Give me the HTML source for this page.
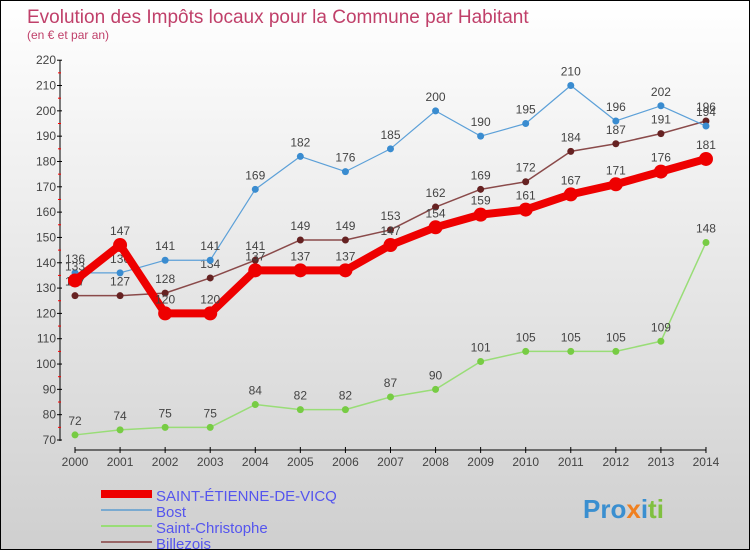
<!DOCTYPE html>
<html><head><meta charset="utf-8"><style>
body{margin:0;width:750px;height:550px;overflow:hidden;font-family:"Liberation Sans",sans-serif}
#wrap{position:relative;width:748px;height:548px;border:1px solid #000;background:linear-gradient(#ffffff,#cfcfcf)}
</style></head><body>
<div id="wrap">
<svg id="svg" width="748" height="548" xmlns="http://www.w3.org/2000/svg">
<text x="26" y="22" font-size="19" fill="#c0406a">Evolution des Impôts locaux pour la Commune par Habitant</text>
<text x="26" y="38" font-size="12" fill="#c0406a">(en € et par an)</text>
<g id="axes"></g><g id="series"></g><g id="legend"></g>
<text x="582" y="517" font-size="26" font-weight="bold" fill="#3a8fd0">Pro<tspan fill="#f08020">x</tspan><tspan fill="#3a8fd0">i</tspan><tspan fill="#80c040">ti</tspan></text>
</svg></div>
<script>
const years=[2000,2001,2002,2003,2004,2005,2006,2007,2008,2009,2010,2011,2012,2013,2014];
const yTicks=[70,80,90,100,110,120,130,140,150,160,170,180,190,200,210,220];
const seVals=[133,147,120,120,137,137,137,147,154,159,161,167,171,176,181];
const bostVals=[136,136,141,141,169,182,176,185,200,190,195,210,196,202,194];
const scVals=[72,74,75,75,84,82,82,87,90,101,105,105,105,109,148];
const billVals=[127,127,128,134,141,149,149,153,162,169,172,184,187,191,196];
const NS="http://www.w3.org/2000/svg";
const X=i=>74+i*45.07, Y=v=>439-(v-70)*2.532;
function mk(t,a,p){const e=document.createElementNS(NS,t);for(const k in a)e.setAttribute(k,a[k]);p.appendChild(e);return e;}
const ax=document.getElementById('axes');
let l=mk('line',{x1:59,y1:59,x2:59,y2:440,stroke:'#000'},ax);


l=mk('line',{x1:74,y1:449,x2:705,y2:449,stroke:'#000'},ax);


yTicks.forEach((v,i)=>{mk('line',{x1:56,y1:Y(v),x2:61,y2:Y(v),stroke:'#000'},ax);
 if(i<yTicks.length-1)mk('line',{x1:57,y1:Y(v+5),x2:60,y2:Y(v+5),stroke:'#f00'},ax);
 const t=mk('text',{x:55,y:Y(v)+4,'font-size':12,fill:'#444','text-anchor':'end'},ax);t.textContent=v;
 
 });
years.forEach((y,i)=>{mk('line',{x1:X(i),y1:446,x2:X(i),y2:452,stroke:'#000'},ax);
 const t=mk('text',{x:X(i),y:465,'font-size':12,fill:'#444','text-anchor':'middle'},ax);t.textContent=y;
 
 });
const sg=document.getElementById('series');
function series(vals,color,w,r,name,dot){
 const g=mk('g',{},sg);
 
 
 mk('polyline',{points:vals.map((v,i)=>X(i)+','+Y(v)).join(' '),fill:'none',stroke:color,'stroke-width':w,'stroke-linejoin':'round'},g);
 vals.forEach((v,i)=>{const c=mk('circle',{cx:X(i),cy:Y(v),r:r,fill:dot},g);
  
  
  const t=mk('text',{x:X(i),y:Y(v)-10,'font-size':12,fill:'#444','text-anchor':'middle'},g);t.textContent=v;
  
  });
}
series(scVals,'#99dd77',1.5,3.5,'saint-christophe-series','#77cc44');
series(billVals,'#8a4a4a',1.5,3.5,'billezois-series','#662222');
series(bostVals,'#5ca0d8',1.2,3.5,'bost-series','#3a8cd0');
series(seVals,'#ee0000',8,7,'saint-etienne-series','#ee0000');
const lg=document.getElementById('legend');
const legNames=['SAINT-ÉTIENNE-DE-VICQ','Bost','Saint-Christophe','Billezois'];
const legColors=['#ee0000','#7aaad0','#99dd77','#996666'];
const legW=[8,2,2,2];
legNames.forEach((n,i)=>{const y=493+i*16;
 const g=mk('g',{},lg);
 
 
 mk('line',{x1:100,y1:y,x2:151,y2:y,stroke:legColors[i],'stroke-width':legW[i]},g);
 const t=mk('text',{x:155,y:y+7,'font-size':15,fill:'#5555ee'},g);t.textContent=n;});
</script>
</body></html>
